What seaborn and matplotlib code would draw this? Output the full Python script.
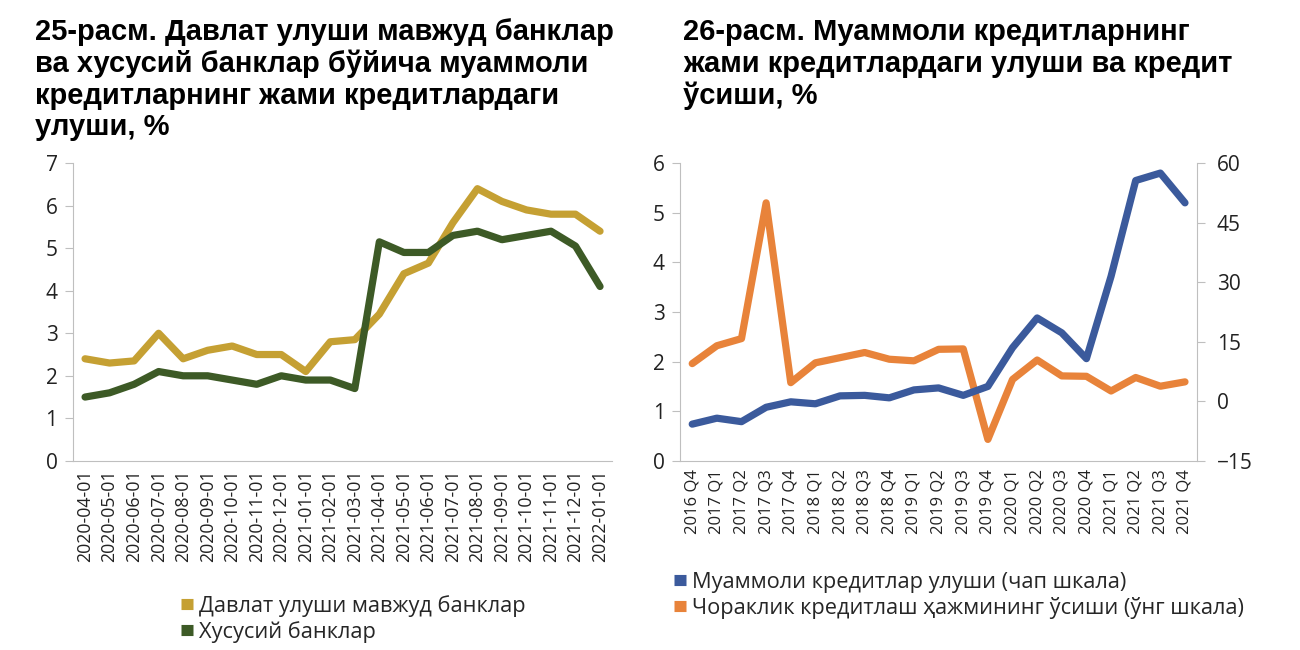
import numpy as np
import pandas as pd
import matplotlib
matplotlib.use("Agg")
import matplotlib.pyplot as plt
import seaborn as sns
from matplotlib.lines import Line2D

# --- data ---
months = ["2020-04-01", "2020-05-01", "2020-06-01", "2020-07-01", "2020-08-01",
          "2020-09-01", "2020-10-01", "2020-11-01", "2020-12-01", "2021-01-01",
          "2021-02-01", "2021-03-01", "2021-04-01", "2021-05-01", "2021-06-01",
          "2021-07-01", "2021-08-01", "2021-09-01", "2021-10-01", "2021-11-01",
          "2021-12-01", "2022-01-01"]
state_banks = [2.4, 2.3, 2.35, 3.0, 2.4, 2.6, 2.7, 2.5, 2.5, 2.1, 2.8,
               2.85, 3.45, 4.4, 4.65, 5.6, 6.4, 6.1, 5.9, 5.8, 5.8, 5.4]
private_banks = [1.5, 1.6, 1.8, 2.1, 2.0, 2.0, 1.9, 1.8, 2.0, 1.9, 1.9,
                 1.7, 5.15, 4.9, 4.9, 5.3, 5.4, 5.2, 5.3, 5.4, 5.05, 4.1]

quarters = ["2016 Q4", "2017 Q1", "2017 Q2", "2017 Q3", "2017 Q4",
            "2018 Q1", "2018 Q2", "2018 Q3", "2018 Q4", "2019 Q1",
            "2019 Q2", "2019 Q3", "2019 Q4", "2020 Q1", "2020 Q2",
            "2020 Q3", "2020 Q4", "2021 Q1", "2021 Q2", "2021 Q3", "2021 Q4"]
npl_share = [0.74, 0.86, 0.79, 1.08, 1.19, 1.15, 1.31, 1.32, 1.27, 1.43,
             1.47, 1.32, 1.5, 2.28, 2.88, 2.58, 2.06, 3.72, 5.65, 5.8, 5.2]
credit_growth = [9.5, 14.0, 15.8, 50.0, 4.7, 9.7, 11.0, 12.3, 10.6, 10.2,
                 13.1, 13.2, -9.6, 5.5, 10.4, 6.4, 6.3, 2.6, 6.0, 3.8, 4.9]

GOLD = "#C5A033"
GREEN = "#3D5A26"
BLUE = "#3B5A9C"
ORANGE = "#E8833A"
SPINE = "#BFBFBF"
LW = 5.2

sns.set_style("white")
plt.rcParams['font.family'] = ['Open Sans', 'DejaVu Sans']

fig = plt.figure(figsize=(13, 6.5), dpi=100)
ax1 = fig.add_axes([0.056, 0.291, 0.415, 0.458])
ax2 = fig.add_axes([0.523, 0.291, 0.398, 0.458])
ax3 = ax2.twinx()


def style_cat_axis(ax, labels, label_size):
    n = len(labels)
    ax.set_xlim(-0.5, n - 0.5)
    ax.set_xticks(range(n))
    ax.set_xticklabels(labels, rotation=90, fontsize=label_size, color="#222222")
    ax.set_xticks(np.arange(-0.5, n, 1.0), minor=True)
    ax.tick_params(axis="x", which="major", length=0, pad=6)
    ax.tick_params(axis="x", which="minor", length=7, color=SPINE, width=1, direction="out")
    for s in ["top", "right"]:
        ax.spines[s].set_visible(False)
    ax.spines["left"].set_color(SPINE)
    ax.spines["bottom"].set_color(SPINE)
    ax.tick_params(axis="y", which="major", length=6, color=SPINE, labelsize=15,
                   labelcolor="#222222", left=True, direction="out", pad=5)
    ax.set_xlabel("")
    ax.set_ylabel("")


# --- left chart ---
df1 = pd.DataFrame({"x": np.arange(len(months)), "state": state_banks, "private": private_banks})
sns.lineplot(data=df1, x="x", y="state", ax=ax1, color=GOLD, linewidth=LW,
             solid_joinstyle="round", solid_capstyle="round")
sns.lineplot(data=df1, x="x", y="private", ax=ax1, color=GREEN, linewidth=LW,
             solid_joinstyle="round", solid_capstyle="round")
ax1.set_ylim(0, 7)
ax1.set_yticks(range(0, 8))
style_cat_axis(ax1, months, 12.8)

# --- right chart ---
df2 = pd.DataFrame({"x": np.arange(len(quarters)), "npl": npl_share, "growth": credit_growth})
sns.lineplot(data=df2, x="x", y="growth", ax=ax3, color=ORANGE, linewidth=LW,
             solid_joinstyle="round", solid_capstyle="round")
sns.lineplot(data=df2, x="x", y="npl", ax=ax2, color=BLUE, linewidth=LW,
             solid_joinstyle="round", solid_capstyle="round")
ax2.set_zorder(ax3.get_zorder() + 1)
ax2.patch.set_visible(False)
ax2.set_ylim(0, 6)
ax2.set_yticks(range(0, 7))
style_cat_axis(ax2, quarters, 12)
ax3.set_ylim(-15, 60)
ax3.set_yticks(range(-15, 61, 15))
ax3.set_ylabel("")
for s in ["top", "left", "bottom"]:
    ax3.spines[s].set_visible(False)
ax3.spines["right"].set_visible(True)
ax3.spines["right"].set_color(SPINE)
ax3.tick_params(axis="y", length=6, color=SPINE, labelsize=15, labelcolor="#222222",
                right=True, direction="out", pad=8)

# --- titles ---
title_kw = dict(fontsize=21, fontweight="bold", family=["Liberation Sans", "DejaVu Sans"],
                va="top", ha="left", linespacing=1.16, color="#000000")
fig.text(35 / 1300, 1 - 18 / 650,
         "25-расм. Давлат улуши мавжуд банклар\nва хусусий банклар бўйича муаммоли\n"
         "кредитларнинг жами кредитлардаги\nулуши, %", **title_kw)
fig.text(683 / 1300, 1 - 18 / 650,
         "26-расм. Муаммоли кредитларнинг\nжами кредитлардаги улуши ва кредит\nўсиши, %",
         **title_kw)

# --- legends ---
leg_kw = dict(loc="upper left", frameon=False, fontsize=15.7, handlelength=0.55,
              handletextpad=0.3, labelspacing=0.2, borderaxespad=0)
h1 = [Line2D([0], [0], color=GOLD, lw=8, solid_capstyle="butt"),
      Line2D([0], [0], color=GREEN, lw=8, solid_capstyle="butt")]
fig.legend(h1, ["Давлат улуши мавжуд банклар", "Хусусий банклар"],
           bbox_to_anchor=(172 / 1300, 1 - 586 / 650), **leg_kw)
h2 = [Line2D([0], [0], color=BLUE, lw=8, solid_capstyle="butt"),
      Line2D([0], [0], color=ORANGE, lw=8, solid_capstyle="butt")]
fig.legend(h2, ["Муаммоли кредитлар улуши (чап шкала)",
                "Чораклик кредитлаш ҳажмининг ўсиши (ўнг шкала)"],
           bbox_to_anchor=(665 / 1300, 1 - 563 / 650), **leg_kw)

fig.savefig("out.png", dpi=100, facecolor="white")
